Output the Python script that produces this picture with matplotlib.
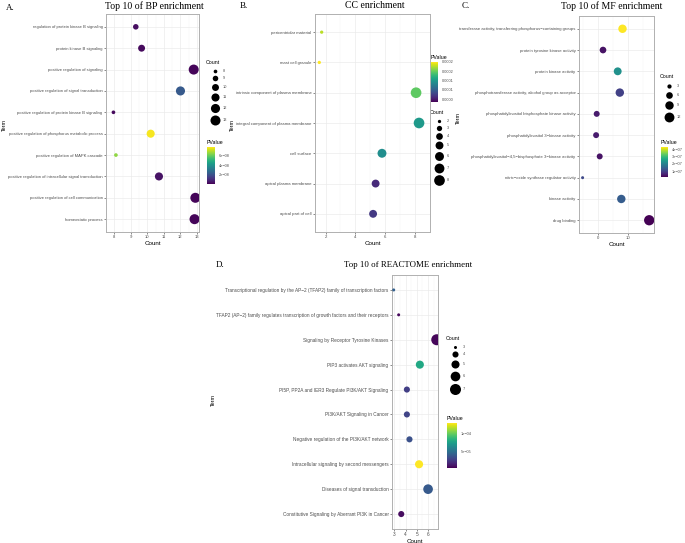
import matplotlib.pyplot as plt
import numpy as np

plt.rcParams['font.family'] = ['Liberation Sans', 'DejaVu Sans']

# --- ДАННЫЕ ---

# A. BP
bp_terms = [
    'regulation of protein kinase B signaling',
    'protein kinase B signaling',
    'positive regulation of signaling',
    'positive regulation of signal transduction',
    'positive regulation of protein kinase B signaling',
    'positive regulation of phosphorus metabolic process',
    'positive regulation of MAPK cascade',
    'positive regulation of intracellular signal transduction',
    'positive regulation of cell communication',
    'homeostatic process',
]
bp_x = [9.3, 9.65, 12.8, 12.0, 7.95, 10.2, 8.1, 10.7, 12.9, 12.85]
bp_count = [9, 10, 13, 12, 8, 11, 8, 11, 13, 13]
bp_pval = [3e-09, 2e-09, 1e-09, 2.2e-08, 2e-09, 7.8e-08, 6.6e-08, 4e-09, 1e-09, 1e-09]

# B. CC
cc_terms = [
    'pericentriolar material',
    'mast cell granule',
    'intrinsic component of plasma membrane',
    'integral component of plasma membrane',
    'cell surface',
    'apical plasma membrane',
    'apical part of cell',
]
cc_x = [1.73, 1.57, 8.1, 8.3, 5.8, 5.37, 5.2]
cc_count = [2, 2, 8, 8, 6, 5, 5]
cc_pval = [0.000178, 0.0002, 0.000146, 0.0001, 0.00009, 0.00001, 0.00002]

# C. MF
mf_terms = [
    'transferase activity, transferring phosphorus\u2212containing groups',
    'protein tyrosine kinase activity',
    'protein kinase activity',
    'phosphotransferase activity, alcohol group as acceptor',
    'phosphatidylinositol bisphosphate kinase activity',
    'phosphatidylinositol 3\u2212kinase activity',
    'phosphatidylinositol\u22124,5\u2212bisphosphate 3\u2212kinase activity',
    'nitric\u2212oxide synthase regulator activity',
    'kinase activity',
    'drug binding',
]
mf_x = [8.3, 1.8, 6.7, 7.4, -0.3, -0.5, 0.7, -5.0, 7.9, 17.2]
mf_count = [9, 6, 8, 9, 5, 5, 5, 2, 9, 13]
mf_pval = [4.3e-07, 4e-08, 2.25e-07, 1e-07, 5e-08, 5e-08, 4e-08, 1.1e-07, 1.4e-07, 2e-08]

# D. REACTOME
re_terms = [
    'Transcriptional regulation by the AP\u22122 (TFAP2) family of transcription factors',
    'TFAP2 (AP\u22122) family regulates transcription of growth factors and their receptors',
    'Signaling by Receptor Tyrosine Kinases',
    'PIP3 activates AKT signaling',
    'PI5P, PP2A and IER3 Regulate PI3K/AKT Signaling',
    'PI3K/AKT Signaling in Cancer',
    'Negative regulation of the PI3K/AKT network',
    'Intracellular signaling by second messengers',
    'Diseases of signal transduction',
    'Constitutive Signaling by Aberrant PI3K in Cancer',
]
re_x = [2.95, 3.39, 6.77, 5.27, 4.12, 4.12, 4.35, 5.2, 6.0, 3.62]
re_count = [3, 3, 7, 5, 4, 4, 4, 5, 6, 4]
re_pval = [4.3e-05, 7.5e-06, 7e-06, 8e-05, 2.8e-05, 3e-05, 3.6e-05, 1.3e-04, 4e-05, 9e-06]

W, H = 685, 543
TICK_FS = 2.8
SERIF = 'Liberation Serif'


def fx(px):
    return px / W


def fy(py):
    return 1 - py / H


def size_fn(cmin, cmax, smin, smax):
    return lambda c: smin + (np.asarray(c, float) - cmin) / (cmax - cmin) * (smax - smin)


def draw_panel(rect, terms, xs, counts, pvals, sfn, vmin, vmax, xlim, xmajor, xminor, label_fs):
    ax = fig.add_axes(rect)
    y = np.arange(len(terms))
    sc = ax.scatter(xs, y, s=sfn(counts), c=pvals, cmap='viridis', vmin=vmin, vmax=vmax,
                    linewidths=0, zorder=3)
    ax.set_yticks(y)
    ax.set_yticklabels(terms)
    ax.set_ylim(len(terms) - 0.4, -0.6)
    ax.set_xlim(*xlim)
    ax.set_xticks(xmajor)
    ax.set_xticks(xminor, minor=True)
    ax.grid(True, which='major', color='#EBEBEB', lw=0.5, zorder=0)
    ax.grid(True, which='minor', axis='x', color='#F2F2F2', lw=0.3, zorder=0)
    ax.tick_params(axis='both', which='major', labelsize=label_fs, labelcolor='#4D4D4D',
                   length=1.5, width=0.4, color='#333333', pad=1)
    ax.tick_params(axis='x', which='minor', length=0)
    for sp in ax.spines.values():
        sp.set_color('#B0B0B0')
        sp.set_linewidth(0.7)
    ax.set_xlabel('Count', fontsize=4.5, labelpad=1)
    return ax, sc


def size_legend(x, y, shown, sfn, gap):
    # легенда размеров: заголовок и кружки в пиксельных координатах overlay-осей
    lax.text(x, y, 'Count', fontsize=3.8, ha='left', va='center')
    sizes = sfn(shown)
    diam = np.sqrt(sizes) / 0.72
    cy = y + 4
    prev = 0
    for c, s, d in zip(shown, sizes, diam):
        cy += prev / 2 + d / 2 + gap
        prev = d
        lax.scatter([x + 9], [cy], s=s, color='black', linewidths=0)
        lax.text(x + 17, cy, str(c), fontsize=TICK_FS, color='#4D4D4D', ha='left', va='center')


def color_legend(sc, x0, y0, x1, y1, ticks, labels):
    cax = fig.add_axes([fx(x0), fy(y1), fx(x1 - x0), (y1 - y0) / H])
    cb = fig.colorbar(sc, cax=cax)
    cb.set_ticks(ticks)
    cb.set_ticklabels(labels)
    cb.outline.set_visible(False)
    cb.ax.tick_params(labelsize=TICK_FS, labelcolor='#4D4D4D', length=1.2, width=0.4,
                      color='white', pad=1.5)
    fig.text(fx(x0), fy(y0 - 2), 'PValue', fontsize=3.8, ha='left', va='bottom')


fig = plt.figure(figsize=(6.85, 5.43), dpi=100)
lax = fig.add_axes([0, 0, 1, 1])
lax.set_xlim(0, W)
lax.set_ylim(H, 0)
lax.axis('off')

# --- A ---
sA = size_fn(8, 13, 7, 52)
axA, scA = draw_panel([fx(106), fy(232), fx(93), 218 / H], bp_terms, bp_x, bp_count, bp_pval,
                      sA, 0, 7.9e-08, (7.65, 13.12), range(8, 14), np.arange(7.5, 13.5, 0.5), 2.95)
fig.text(fx(154), fy(6), 'Top 10 of BP enrichment', family=SERIF, fontsize=7, ha='center', va='center')
fig.text(fx(6), fy(8), 'A.', family=SERIF, fontsize=6.5, ha='left', va='center')
fig.text(fx(4), fy(125), 'Term', fontsize=4, rotation=90, ha='center', va='center')
size_legend(206, 63, [8, 9, 10, 11, 12, 13], sA, 2.5)
color_legend(scA, 207, 147, 215, 184, [2e-08, 4e-08, 6e-08], ['2e\u221208', '4e\u221208', '6e\u221208'])

# --- B ---
sB = size_fn(2, 8, 5.6, 59)
axB, scB = draw_panel([fx(315), fy(232), fx(115), 218 / H], cc_terms, cc_x, cc_count, cc_pval,
                      sB, -1.6e-05, 0.0002, (1.28, 9.04), [2, 4, 6, 8], [3, 5, 7], 3.05)
fig.text(fx(375), fy(6), 'CC enrichment', family=SERIF, fontsize=7, ha='center', va='center')
fig.text(fx(240), fy(6), 'B.', family=SERIF, fontsize=6.5, ha='left', va='center')
fig.text(fx(232), fy(125), 'Term', fontsize=4, rotation=90, ha='center', va='center')
color_legend(scB, 431, 62, 438, 102, [0, 5e-05, 0.0001, 0.00015, 0.0002],
             ['0.0000', '0.0001', '0.0001', '0.0002', '0.0002'])
size_legend(430, 113, [2, 3, 4, 5, 6, 7, 8], sB, 2.3)

# --- C ---
sC = size_fn(2, 13, 4.7, 55)
axC, scC = draw_panel([fx(579), fy(233), fx(75), 217 / H], mf_terms, mf_x, mf_count, mf_pval,
                      sC, 2e-08, 4.3e-07, (-6.2, 18.8), [0, 10], [-5, 5, 15], 3.05)
fig.text(fx(612), fy(6), 'Top 10 of MF enrichment', family=SERIF, fontsize=7, ha='center', va='center')
fig.text(fx(462), fy(6), 'C.', family=SERIF, fontsize=6.5, ha='left', va='center')
fig.text(fx(458), fy(118), 'Term', fontsize=4, rotation=90, ha='center', va='center')
size_legend(660, 77, [3, 6, 9, 12], sC, 3)
color_legend(scC, 661, 147, 668, 177, [1e-07, 2e-07, 3e-07, 4e-07],
             ['1e\u221207', '2e\u221207', '3e\u221207', '4e\u221207'])

# --- D ---
sD = size_fn(3, 7, 4.7, 63)
axD, scD = draw_panel([fx(392), fy(529), fx(46), 254 / H], re_terms, re_x, re_count, re_pval,
                      sD, 5e-06, 1.3e-04, (2.8, 6.88), [3, 4, 5, 6], [3.5, 4.5, 5.5, 6.5], 3.4)
fig.text(fx(408), fy(265), 'Top 10 of REACTOME enrichment', family=SERIF, fontsize=6.4, ha='center', va='center')
fig.text(fx(216), fy(265), 'D.', family=SERIF, fontsize=6.5, ha='left', va='center')
fig.text(fx(213), fy(400), 'Term', fontsize=4, rotation=90, ha='center', va='center')
size_legend(446, 338, [3, 4, 5, 6, 7], sD, 3)
color_legend(scD, 447, 423, 457, 468, [5e-05, 1e-04], ['5e\u221205', '1e\u221204'])

fig.savefig('out.png', dpi=100)
